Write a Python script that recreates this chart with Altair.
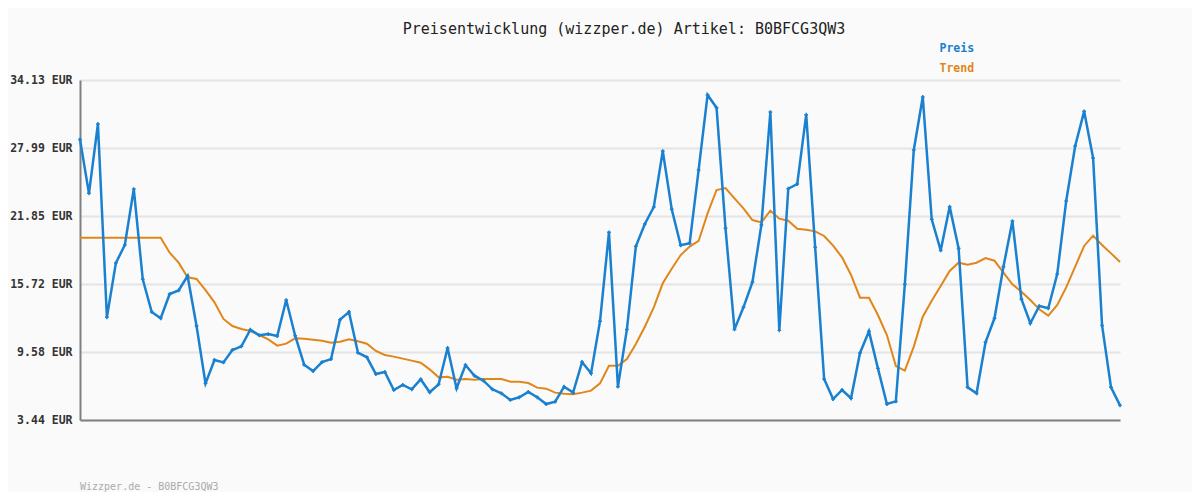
import altair as alt
import pandas as pd

preis = [28.77, 23.90, 30.16, 12.71, 17.61, 19.24, 24.29, 16.14, 13.19, 12.62,
         14.81, 15.14, 16.44, 11.92, 6.75, 8.86, 8.64, 9.76, 10.09, 11.59,
         11.08, 11.20, 11.02, 14.27, 11.05, 8.43, 7.86, 8.67, 8.94, 12.50,
         13.19, 9.52, 9.10, 7.59, 7.77, 6.15, 6.60, 6.21, 7.11, 5.94,
         6.66, 9.94, 6.30, 8.40, 7.44, 6.99, 6.21, 5.85, 5.25, 5.49,
         5.97, 5.49, 4.88, 5.09, 6.45, 5.91, 8.67, 7.65, 12.35, 20.38,
         6.45, 11.62, 19.12, 21.13, 22.67, 27.72, 22.46, 19.21, 19.39, 26.01,
         32.78, 31.63, 20.74, 11.62, 13.61, 15.87, 21.04, 31.24, 11.53, 24.32,
         24.74, 31.00, 19.03, 7.14, 5.33, 6.15, 5.40, 9.49, 11.44, 8.10,
         4.88, 5.12, 15.69, 27.81, 32.60, 21.55, 18.75, 22.70, 18.93, 6.39,
         5.85, 10.45, 12.62, 17.28, 21.40, 14.36, 12.17, 13.73, 13.52, 16.62,
         23.21, 28.17, 31.30, 27.09, 11.98, 6.39, 4.76]

trend = [19.90, 19.90, 19.90, 19.90, 19.90, 19.90, 19.90, 19.90, 19.90, 19.90,
         18.54, 17.64, 16.32, 16.17, 15.17, 14.06, 12.56, 11.92, 11.65, 11.47,
         11.11, 10.72, 10.15, 10.33, 10.81, 10.78, 10.69, 10.60, 10.42, 10.51,
         10.72, 10.54, 10.33, 9.67, 9.31, 9.16, 8.98, 8.80, 8.61, 8.01,
         7.29, 7.35, 7.08, 7.14, 7.08, 7.14, 7.14, 7.14, 6.90, 6.90,
         6.78, 6.36, 6.27, 5.91, 5.82, 5.76, 5.91, 6.09, 6.75, 8.34,
         8.34, 8.95, 10.30, 11.86, 13.61, 15.78, 17.10, 18.33, 19.09, 19.60,
         22.09, 24.20, 24.38, 23.45, 22.55, 21.49, 21.28, 22.34, 21.61, 21.43,
         20.71, 20.62, 20.47, 20.05, 19.18, 18.12, 16.53, 14.48, 14.48, 12.92,
         11.11, 8.31, 7.89, 10.06, 12.77, 14.21, 15.54, 16.89, 17.64, 17.46,
         17.64, 18.06, 17.82, 16.74, 15.69, 15.02, 14.27, 13.43, 12.86, 13.82,
         15.41, 17.28, 19.15, 20.08, 19.24, 18.48, 17.70]

y_ticks = [3.44, 9.578, 15.716, 21.854, 27.992, 34.13]
series_names = ["Preis", "Trend"]
title_text = "Preisentwicklung (wizzper.de) Artikel: B0BFCG3QW3"
footer_text = "Wizzper.de - B0BFCG3QW3"

BLUE = "#1a80d0"
ORANGE = "#e0861a"
MONO = "DejaVu Sans Mono"

n = len(preis)
df_p = pd.DataFrame({"i": list(range(n)), "v": preis, "s": series_names[0]})
df_t = pd.DataFrame({"i": list(range(n)), "v": trend, "s": series_names[1]})

x_enc = alt.X("i:Q", scale=alt.Scale(domain=[0, n - 1], nice=False, zero=False),
              axis=alt.Axis(labels=False, ticks=False, grid=False, title=None,
                            domainColor="#808080", domainWidth=2))
y_enc = alt.Y("v:Q", scale=alt.Scale(domain=[3.44, 34.13], nice=False, zero=False),
              axis=alt.Axis(values=y_ticks, title=None, ticks=False,
                            labelExpr="format(datum.value, '.2f') + ' EUR'",
                            labelFont=MONO, labelFontSize=11.5, labelFontWeight="bold",
                            labelColor="#333333", labelPadding=8,
                            gridColor="#e4e4e4", gridWidth=2,
                            domainColor="#808080", domainWidth=2))

def legend(color, ly):
    return alt.Legend(title=None, orient="none", legendX=848, legendY=ly,
                      symbolOpacity=0, symbolSize=0, symbolStrokeWidth=0,
                      labelOffset=0, labelColor=color, labelFont=MONO,
                      labelFontSize=11.5, labelFontWeight="bold", padding=0)

line_p = alt.Chart(df_p).mark_line(
    strokeWidth=2.5,
    point=alt.OverlayMarkDef(shape="cross", size=14, filled=True, color=BLUE),
).encode(
    x=x_enc, y=y_enc,
    color=alt.Color("s:N", scale=alt.Scale(domain=["Preis"], range=[BLUE]),
                    legend=legend(BLUE, -37)),
)

line_t = alt.Chart(df_t).mark_line(strokeWidth=2).encode(
    x=x_enc, y=y_enc,
    color=alt.Color("s:N", scale=alt.Scale(domain=["Trend"], range=[ORANGE]),
                    legend=legend(ORANGE, -17)),
)

footer = alt.Chart(pd.DataFrame({"t": [footer_text]})).mark_text(
    align="left", baseline="middle", font=MONO, fontSize=10, color="#aaaaaa"
).encode(text="t:N", x=alt.value(0), y=alt.value(407))

chart = alt.layer(line_t, line_p, footer).resolve_scale(color="independent").properties(
    width=1040, height=340,
    autosize=alt.AutoSizeParams(type="none"),
    padding={"left": 72, "top": 72, "right": 72, "bottom": 72},
    background="#fafafa",
    title=alt.TitleParams(title_text, anchor="middle", dx=24, offset=6,
                          font=MONO, fontSize=15, fontWeight="normal", color="#222222"),
).configure_view(stroke=None)

chart.save("out.html", embed_options={"renderer": "svg", "actions": False})
